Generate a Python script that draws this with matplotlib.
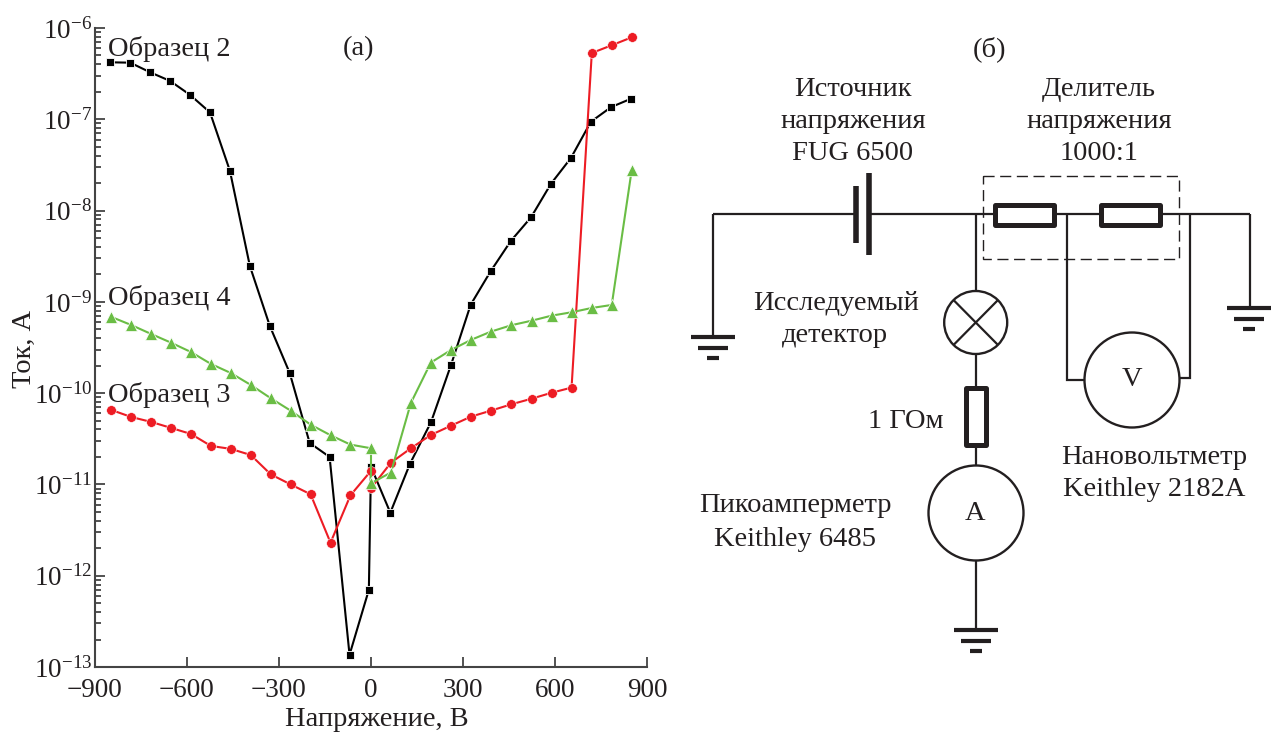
import matplotlib
matplotlib.use("Agg")
from matplotlib import pyplot as plt
from matplotlib.patches import Circle, Rectangle

plt.rcParams["font.family"] = ["Liberation Serif", "DejaVu Serif"]
plt.rcParams["mathtext.fontset"] = "custom"
plt.rcParams["mathtext.rm"] = "Liberation Serif"
plt.rcParams["mathtext.it"] = "Liberation Serif"

INK = "#231f20"
W, H = 1273, 732
FS = 20.5

volt_black = [-850, -785, -720, -655, -590, -525, -460, -395, -330, -265, -200, -135, -70, -7, 0,
              63, 127, 196, 261, 325, 390, 456, 522, 587, 652, 717, 783, 848]
volt_other = [-847, -782, -717, -652, -587, -522, -457, -392, -327, -262, -197, -132, -67, 0, 0,
              65, 130, 195, 261, 326, 391, 458, 524, 589, 654, 720, 785, 850]

cur_2 = [4.21e-7, 4.17e-7, 3.27e-7, 2.63e-7, 1.85e-7, 1.19e-7, 2.72e-8, 2.47e-9, 5.45e-10, 1.66e-10,
         2.85e-11, 2.0e-11, 1.36e-13, 7.0e-13, 1.56e-11, 4.9e-12, 1.68e-11, 4.84e-11, 2.04e-10, 9.3e-10,
         2.16e-9, 4.65e-9, 8.45e-9, 1.97e-8, 3.77e-8, 9.4e-8, 1.36e-7, 1.68e-7]
cur_3 = [6.55e-11, 5.48e-11, 4.84e-11, 4.16e-11, 3.57e-11, 2.64e-11, 2.45e-11, 2.1e-11, 1.29e-11, 1.0e-11,
         7.8e-12, 2.3e-12, 7.6e-12, 1.41e-11, 9.1e-12, 1.73e-11, 2.49e-11, 3.48e-11, 4.4e-11, 5.53e-11,
         6.43e-11, 7.55e-11, 8.7e-11, 1.01e-10, 1.15e-10, 5.32e-7, 6.47e-7, 7.9e-7]
cur_4 = [6.84e-10, 5.58e-10, 4.45e-10, 3.57e-10, 2.82e-10, 2.09e-10, 1.66e-10, 1.23e-10, 8.8e-11, 6.43e-11,
         4.52e-11, 3.46e-11, 2.73e-11, 2.49e-11, 1.03e-11, 1.35e-11, 7.8e-11, 2.16e-10, 2.97e-10, 3.83e-10,
         4.72e-10, 5.55e-10, 6.22e-10, 7.06e-10, 7.69e-10, 8.57e-10, 9.25e-10, 2.76e-8]

x_ticks = [-900, -600, -300, 0, 300, 600, 900]
x_labels = ["\u2212900", "\u2212600", "\u2212300", "0", "300", "600", "900"]
y_ticks = [1e-13, 1e-12, 1e-11, 1e-10, 1e-9, 1e-8, 1e-7, 1e-6]
y_labels = [r"$\mathregular{10^{-%d}}$" % n for n in [13, 12, 11, 10, 9, 8, 7, 6]]
y_minor = [m * 10.0 ** e for e in range(-13, -6) for m in range(2, 10)]

fig = plt.figure(figsize=(W / 100, H / 100), dpi=100)

# whole-figure layer in pixels for the schematic and the free labels
sk = fig.add_axes([0, 0, 1, 1])
sk.set_xlim(0, W)
sk.set_ylim(H, 0)
sk.axis("off")

ax = fig.add_axes([95 / W, (H - 667) / H, 552 / W, 639 / H])
ax.patch.set_alpha(0)
ax.set_yscale("log")
ax.set_xlim(-900, 900)
ax.set_ylim(1e-13, 1e-6)
ax.spines["top"].set_visible(False)
ax.spines["right"].set_visible(False)
for s in ["left", "bottom"]:
    ax.spines[s].set_color("#444444")
    ax.spines[s].set_linewidth(1.5)

ax.plot(volt_black, cur_2, "-s", color="black", lw=1.5, ms=6, mec="white", mew=0.6, clip_on=False)
ax.plot(volt_other, cur_3, "-o", color="#ed1c24", lw=1.5, ms=7, mec="white", mew=0.4, clip_on=False)
ax.plot(volt_other, cur_4, "-^", color="#6abd45", lw=1.5, ms=8, mec="white", mew=0.5, clip_on=False)

ax.set_xticks(x_ticks)
ax.set_xticklabels(x_labels)
ax.set_yticks(y_ticks)
ax.set_yticklabels(y_labels)
ax.set_yticks(y_minor, minor=True)
ax.set_yticklabels([], minor=True)
ax.tick_params(axis="both", which="major", direction="in", length=7, width=1.3, color="#444444",
               labelcolor=INK)
ax.tick_params(axis="y", which="minor", direction="in", length=4.5, width=1.3, color="#444444")
ax.tick_params(axis="x", pad=8, labelsize=19.5)
ax.tick_params(axis="y", pad=2, labelsize=19.5)


def label(x, y, s, ha="center", size=FS):
    sk.text(x, y + 2, s, ha=ha, va="center", fontsize=size, color=INK)


label(377, 718, "Напряжение, В")
sk.text(24, 349, "Ток, А", rotation=90, ha="center", va="center", fontsize=FS, color=INK)
label(108, 47, "Образец 2", ha="left")
label(108, 296, "Образец 4", ha="left")
label(108, 393, "Образец 3", ha="left")
label(359, 47, "(а)")
label(990, 47, "(б)")
label(853, 87, "Источник")
label(853, 120, "напряжения")
label(853, 152, "FUG 6500")
label(1099, 87, "Делитель")
label(1099, 120, "напряжения")
label(1099, 152, "1000:1")
label(836, 301, "Исследуемый")
label(835, 334, "детектор")
label(943, 420, "1 ГОм", ha="right")
label(795, 504, "Пикоамперметр")
label(795, 537, "Keithley 6485")
label(1154, 455, "Нановольтметр")
label(1154, 488, "Keithley 2182A")
label(1132, 377, "V")
label(975, 511, "A")


def wire(xs, ys, lw=1.6):
    sk.plot(xs, ys, color=INK, lw=lw, solid_capstyle="butt", solid_joinstyle="miter")


def ground(x, y):
    wire([x - 22, x + 22], [y, y], lw=3)
    wire([x - 15, x + 15], [y + 10.5, y + 10.5], lw=3)
    wire([x - 6, x + 6], [y + 21, y + 21], lw=3)


def box(x0, y0, x1, y1):
    sk.add_patch(Rectangle((x0, y0), x1 - x0, y1 - y0, fc="white", ec=INK, lw=3.6, joinstyle="round", zorder=3))


def ring(x, y, r):
    sk.add_patch(Circle((x, y), r, fc="white", ec=INK, lw=1.7, zorder=3))


wire([713, 713], [337, 214])
wire([713, 855], [214, 214])
wire([869, 1250], [214, 214])
wire([1250, 1250], [214, 308])
ground(713, 337)
ground(1249, 308)
wire([855.5, 855.5], [186, 243], lw=4)
wire([869, 869], [173, 255], lw=4)

box(995, 205, 1054, 224.5)
box(1101, 205, 1160, 224.5)
sk.add_patch(Rectangle((983, 176), 196, 83, fc="none", ec=INK, lw=1, ls=(0, (8, 4)), zorder=4))

wire([1067, 1067, 1085], [214, 380, 380])
wire([1190, 1190, 1179], [214, 378, 378])
ring(1132, 380, 47.5)

wire([975.5, 975.5], [214, 630])
ring(975.7, 322.5, 31.5)
wire([953.5, 998], [300, 345])
wire([953.5, 998], [345, 300])
sk.lines[-1].set_zorder(4)
sk.lines[-2].set_zorder(4)
box(966, 388, 986, 445)
ring(976, 513, 47.5)
ground(976, 630)
for t in sk.texts:
    t.set_zorder(5)

fig.savefig("out.png", dpi=100)
